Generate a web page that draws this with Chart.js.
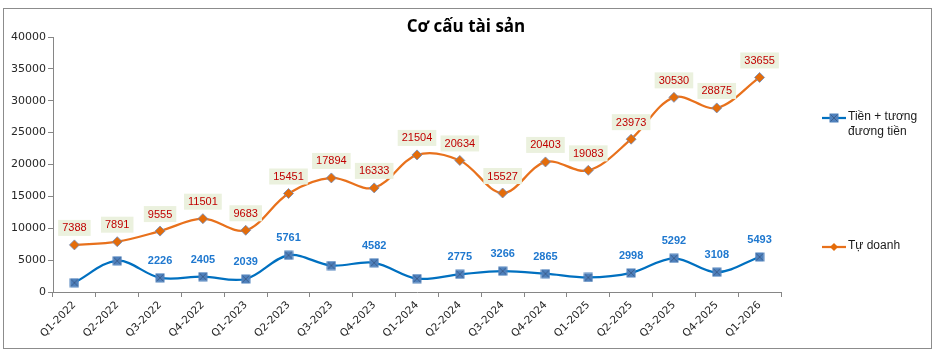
<!DOCTYPE html>
<html>
<head>
<meta charset="utf-8">
<script src="https://cdn.jsdelivr.net/npm/chart.js@4/dist/chart.umd.min.js"></script>
<style>
  html, body { margin: 0; padding: 0; background: #ffffff; }
  #wrap { position: relative; width: 937px; height: 353px; }
</style>
</head>
<body>
<div id="wrap"><canvas id="c" width="937" height="353"></canvas></div>
<script>
// ---- data ----
const quarters = ["Q1-2022","Q2-2022","Q3-2022","Q4-2022","Q1-2023","Q2-2023","Q3-2023","Q4-2023",
                  "Q1-2024","Q2-2024","Q3-2024","Q4-2024","Q1-2025","Q2-2025","Q3-2025","Q4-2025","Q1-2026"];
const cashValues = [1460, 4900, 2226, 2405, 2039, 5761, 4150, 4582, 2100, 2775, 3266, 2865, 2280, 2998, 5292, 3108, 5493];
const cashLabelled = [false, false, true, true, true, true, false, true, false, true, true, true, false, true, true, true, true];
const tradingValues = [7388, 7891, 9555, 11501, 9683, 15451, 17894, 16333, 21504, 20634, 15527, 20403, 19083, 23973, 30530, 28875, 33655];
const yTicks = [0, 5000, 10000, 15000, 20000, 25000, 30000, 35000, 40000];
const chartTitle = "Cơ cấu tài sản";
const cashName = "Tiền + tương đương tiền";
const tradingName = "Tự doanh";

// ---- styles ----
const BLUE = '#0070C0';
const ORANGE = '#E8711C';
const AXIS = '#868686';

function squareMarker() {
  const c = document.createElement('canvas');
  c.width = 10; c.height = 10;
  const g = c.getContext('2d');
  g.fillStyle = '#4F81BD';
  g.fillRect(0.5, 0.5, 9, 9);
  g.strokeStyle = '#3C5F8E';
  g.lineWidth = 1;
  g.beginPath();
  g.moveTo(1.5, 1.5); g.lineTo(8.5, 8.5);
  g.moveTo(8.5, 1.5); g.lineTo(1.5, 8.5);
  g.stroke();
  return c;
}
const sq = squareMarker();

const labelPlugin = {
  id: 'valueLabels',
  afterDatasetsDraw(chart) {
    const ctx = chart.ctx;
    ctx.save();
    ctx.textAlign = 'center';
    ctx.textBaseline = 'middle';
    // orange labels with background
    const m1 = chart.getDatasetMeta(1);
    ctx.font = '11px "Liberation Sans", Arial, sans-serif';
    m1.data.forEach((pt, i) => {
      const txt = String(tradingValues[i]);
      const w = ctx.measureText(txt).width + 8;
      const h = 16;
      const cx = pt.x, cy = pt.y - 17;
      ctx.fillStyle = '#EBF1DE';
      ctx.fillRect(cx - w / 2, cy - h / 2, w, h);
      ctx.fillStyle = '#C00000';
      ctx.fillText(txt, cx, cy + 0.5);
    });
    // blue labels
    const m0 = chart.getDatasetMeta(0);
    ctx.font = 'bold 11px "Liberation Sans", Arial, sans-serif';
    ctx.fillStyle = '#1F78CF';
    m0.data.forEach((pt, i) => {
      if (!cashLabelled[i]) return;
      ctx.fillText(String(cashValues[i]), pt.x, pt.y - 17);
    });
    ctx.restore();
  },
  afterDraw(chart) {
    const ctx = chart.ctx;
    ctx.save();
    // outer border
    ctx.strokeStyle = '#8C8C8C';
    ctx.lineWidth = 1;
    ctx.strokeRect(3.5, 8.5, 928, 340);
    // title
    ctx.fillStyle = '#000000';
    ctx.font = 'bold 17px "Open Sans", "Noto Sans", sans-serif';
    ctx.textAlign = 'center';
    ctx.textBaseline = 'middle';
    ctx.fillText(chartTitle, 466, 27);
    // legend
    ctx.textAlign = 'left';
    ctx.font = '12px "Liberation Sans", Arial, sans-serif';
    ctx.fillStyle = '#1a1a1a';
    // cash entry
    ctx.strokeStyle = BLUE; ctx.lineWidth = 2.25;
    ctx.beginPath(); ctx.moveTo(822, 118); ctx.lineTo(846, 118); ctx.stroke();
    ctx.drawImage(sq, 829, 113);
    ctx.fillText("Tiền + tương", 848, 117);
    ctx.fillText("đương tiền", 848, 132);
    // trading entry
    ctx.strokeStyle = ORANGE;
    ctx.beginPath(); ctx.moveTo(822, 247); ctx.lineTo(846, 247); ctx.stroke();
    ctx.fillStyle = '#E46C0A';
    ctx.beginPath();
    ctx.moveTo(834, 243); ctx.lineTo(838, 247); ctx.lineTo(834, 251); ctx.lineTo(830, 247); ctx.closePath();
    ctx.fill();
    ctx.fillStyle = '#1a1a1a';
    ctx.fillText(tradingName, 848, 246);
    ctx.restore();
  }
};

new Chart(document.getElementById('c'), {
  type: 'line',
  data: {
    labels: quarters,
    datasets: [
      {
        label: cashName,
        data: cashValues,
        borderColor: BLUE,
        borderWidth: 2.25,
        tension: 0.35,
        pointStyle: sq,
        pointRadius: 5,
        pointBackgroundColor: '#4F81BD',
        pointBorderColor: '#4F81BD',
        fill: false,
        order: 2
      },
      {
        label: tradingName,
        data: tradingValues,
        borderColor: ORANGE,
        borderWidth: 2.25,
        tension: 0.35,
        pointStyle: 'rectRot',
        pointRadius: 5,
        pointBackgroundColor: '#E46C0A',
        pointBorderColor: 'rgba(110,140,190,0.8)',
        pointBorderWidth: 1,
        fill: false,
        order: 1
      }
    ]
  },
  options: {
    responsive: false,
    animation: false,
    devicePixelRatio: 1,
    layout: { padding: { top: 37, left: 0, right: 156, bottom: 0 } },
    plugins: {
      legend: { display: false },
      title: { display: false },
      tooltip: { enabled: false }
    },
    scales: {
      x: {
        offset: true,
        grid: { offset: true, drawOnChartArea: false, drawTicks: true, tickLength: 5, color: AXIS },
        border: { color: AXIS, width: 1 },
        ticks: {
          color: '#262626',
          font: { family: '"DejaVu Sans", sans-serif', size: 10.5 },
          maxRotation: 45, minRotation: 45,
          autoSkip: false,
          padding: 2
        },
        afterFit(scale) { scale.height = 61; }
      },
      y: {
        min: 0, max: 40000,
        afterBuildTicks(scale) { scale.ticks = yTicks.map(v => ({ value: v })); },
        grid: { drawOnChartArea: false, drawTicks: true, tickLength: 5, color: AXIS },
        border: { color: AXIS, width: 1 },
        ticks: {
          color: '#262626',
          font: { family: '"DejaVu Sans", sans-serif', size: 11 },
          padding: 2,
          callback: v => String(v)
        },
        afterFit(scale) { scale.width = 53; }
      }
    }
  },
  plugins: [labelPlugin]
});
</script>
</body>
</html>
